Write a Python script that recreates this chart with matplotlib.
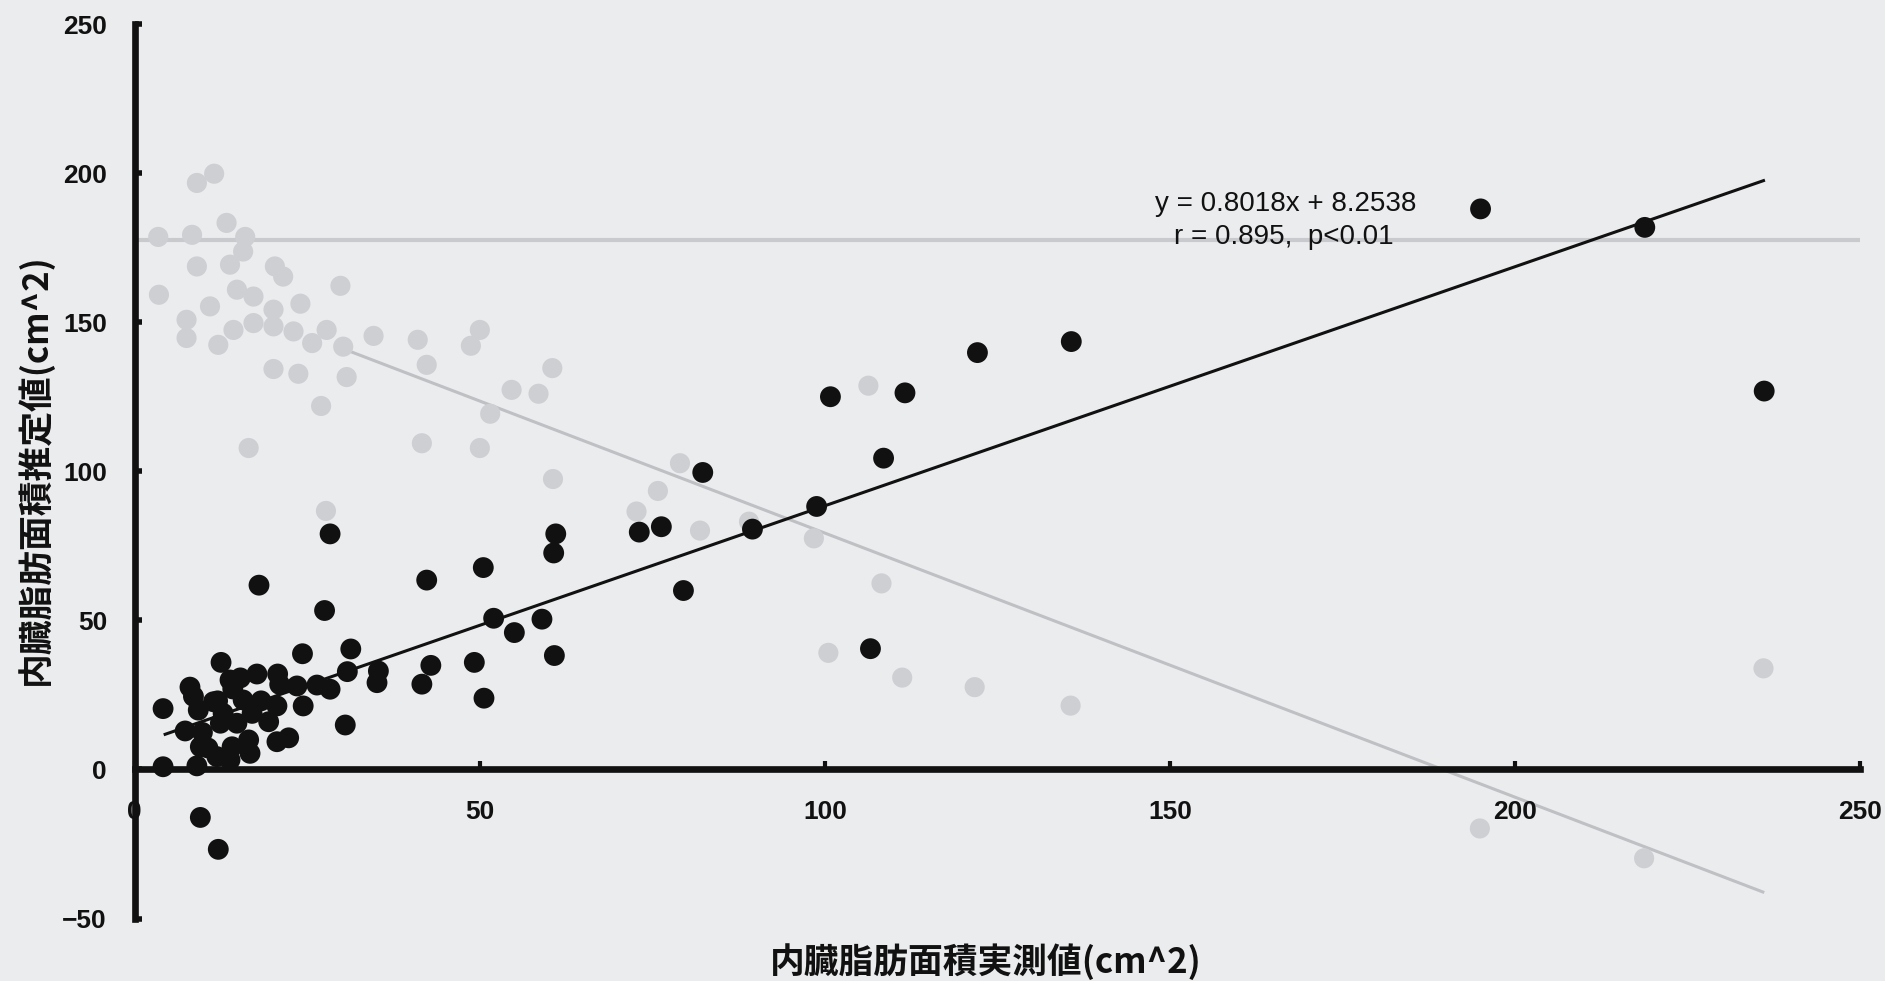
import matplotlib
matplotlib.use("Agg")
import matplotlib.pyplot as plt

# 内臓脂肪面積: measured (x) vs estimated (y), black points
x_meas = [195.0, 218.8, 236.1, 135.7, 122.1, 100.8, 111.6, 108.5, 82.3, 98.8,
          89.5, 73.1, 76.3, 79.5, 106.6, 61.0, 60.7, 50.5, 42.3, 28.3,
          18.0, 27.5, 52.0, 55.0, 59.0, 60.8, 49.2, 42.9, 41.6, 50.6,
          24.3, 31.3, 30.8, 35.3, 35.1, 30.5, 20.6, 22.3,
          4.1, 4.1, 9.0, 9.5, 12.1, 12.5, 8.0, 8.5, 24.4, 28.3,
          26.4, 23.5, 7.3, 9.5, 9.8, 9.2, 11.4, 13.8, 15.3, 17.7,
          20.7, 21.0, 20.6, 19.4, 17.0, 15.7, 12.8, 12.4, 12.0, 16.5,
          16.7, 14.1, 11.9, 13.8, 10.6, 14.2, 18.3, 14.8]
y_est = [188.0, 181.8, 126.9, 143.5, 139.8, 125.0, 126.3, 104.4, 99.6, 88.2,
         80.6, 79.6, 81.4, 60.0, 40.5, 79.0, 72.6, 67.7, 63.5, 79.0,
         61.8, 53.3, 50.7, 45.9, 50.4, 38.2, 35.9, 34.9, 28.6, 23.9,
         38.8, 40.4, 32.8, 33.0, 29.1, 14.9, 9.3, 10.6,
         20.4, 0.9, 1.2, -16.1, -26.8, 35.9, 27.6, 24.5, 21.3, 26.9,
         28.3, 28.0, 12.9, 7.6, 12.4, 19.9, 22.7, 30.0, 30.7, 32.0,
         32.0, 28.5, 21.3, 16.0, 18.8, 23.3, 18.8, 15.5, 23.0, 9.9,
         5.4, 7.6, 4.3, 3.2, 7.2, 27.0, 23.0, 15.5]

slope = 0.8018
intercept = 8.2538
fit_x = [4.4, 236.0]

# faint bleed-through from the back of the page
ghost_x = [11.5, 9.0, 13.3, 3.4, 8.3, 16.0, 15.7, 3.5, 9.0, 13.8,
           20.3, 21.5, 29.8, 24.0, 7.5, 7.5, 12.1, 10.9, 14.8, 17.2,
           20.1, 14.3, 17.2, 20.1, 23.0, 25.7, 27.8, 30.2, 34.6, 41.0,
           42.3, 50.0, 48.7, 60.5, 54.6, 58.5, 51.5, 20.1, 23.7, 30.7,
           27.0, 16.5, 41.6, 50.0, 27.7, 60.6, 79.0, 75.8, 72.7, 81.9,
           89.0, 98.4, 106.3, 108.2, 111.2, 121.7, 135.6, 236.0, 194.9, 218.7,
           100.5]
ghost_y = [199.8, 196.7, 183.3, 178.6, 179.3, 178.6, 173.7, 159.2, 168.7, 169.3,
           168.7, 165.3, 162.2, 156.2, 150.8, 144.7, 142.4, 155.3, 160.9, 158.6,
           154.2, 147.4, 149.7, 148.6, 146.9, 143.0, 147.4, 141.8, 145.4, 144.1,
           135.7, 147.4, 142.1, 134.6, 127.3, 126.0, 119.3, 134.3, 132.7, 131.6,
           121.9, 107.8, 109.4, 107.8, 86.7, 97.4, 102.7, 93.4, 86.5, 80.1,
           83.1, 77.5, 128.7, 62.4, 30.8, 27.6, 21.4, 33.9, -19.8, -29.8,
           39.1]
ghost_line_x = [31.2, 235.9]
ghost_line_y = [140.2, -41.1]
ghost_axis_y = 177.4

x_ticks = [0, 50, 100, 150, 200, 250]
y_ticks = [-50, 0, 50, 100, 150, 200, 250]

bg = "#ebecee"
ink = "#111111"
num_font = ["Liberation Sans", "DejaVu Sans"]
jp_font = ["Noto Sans CJK JP", "DejaVu Sans"]

fig = plt.figure(figsize=(18.85, 9.81), dpi=100, facecolor=bg)
ax = fig.add_axes([0.0715, 0.0637, 0.9153, 0.9118])
ax.set_facecolor(bg)
ax.set_xlim(0, 250)
ax.set_ylim(-50, 250)

# ghost layer
ax.axhline(ghost_axis_y, color="#c8cacd", lw=3, zorder=1)
ax.plot(ghost_line_x, ghost_line_y, color="#bec0c4", lw=2.2, zorder=1)
ax.scatter(ghost_x, ghost_y, s=210, color="#cdcfd2", edgecolors="none", zorder=1)

# main data
ax.scatter(x_meas, y_est, s=225, color=ink, edgecolors="none", zorder=3, clip_on=False)
fy = [slope * v + intercept for v in fit_x]
ax.plot(fit_x, fy, color=ink, lw=2.2, zorder=4)

ax.text(166.7, 189.7, "y = 0.8018x + 8.2538", ha="center", va="center",
        fontsize=20, family=num_font, color=ink)
ax.text(166.5, 178.6, "r = 0.895,  p<0.01", ha="center", va="center",
        fontsize=20, family=num_font, color=ink)

for side in ["top", "right"]:
    ax.spines[side].set_visible(False)
ax.spines["bottom"].set_position(("data", 0))
for side in ["left", "bottom"]:
    ax.spines[side].set_linewidth(4.8)
    ax.spines[side].set_color(ink)
    ax.spines[side].set_zorder(5)

ax.set_xticks(x_ticks)
ax.set_yticks(y_ticks)
ax.tick_params(axis="x", direction="in", length=6, width=3, pad=22, colors=ink)
ax.tick_params(axis="y", direction="in", length=5, width=4, pad=20, colors=ink)
for lab in ax.get_xticklabels() + ax.get_yticklabels():
    lab.set_fontfamily(num_font)
    lab.set_fontsize(19)
    lab.set_fontweight("bold")

fig.text(34 / 1885, 1 - 469 / 981, "内臓脂肪面積推定値(cm^2)", rotation=90,
         ha="center", va="center", fontsize=25, family=jp_font, fontweight="bold", color=ink)
fig.text(986 / 1885, 1 - 962 / 981, "内臓脂肪面積実測値(cm^2)",
         ha="center", va="center", fontsize=25, family=jp_font, fontweight="bold", color=ink)

fig.savefig("out.png", dpi=100, facecolor=bg)
